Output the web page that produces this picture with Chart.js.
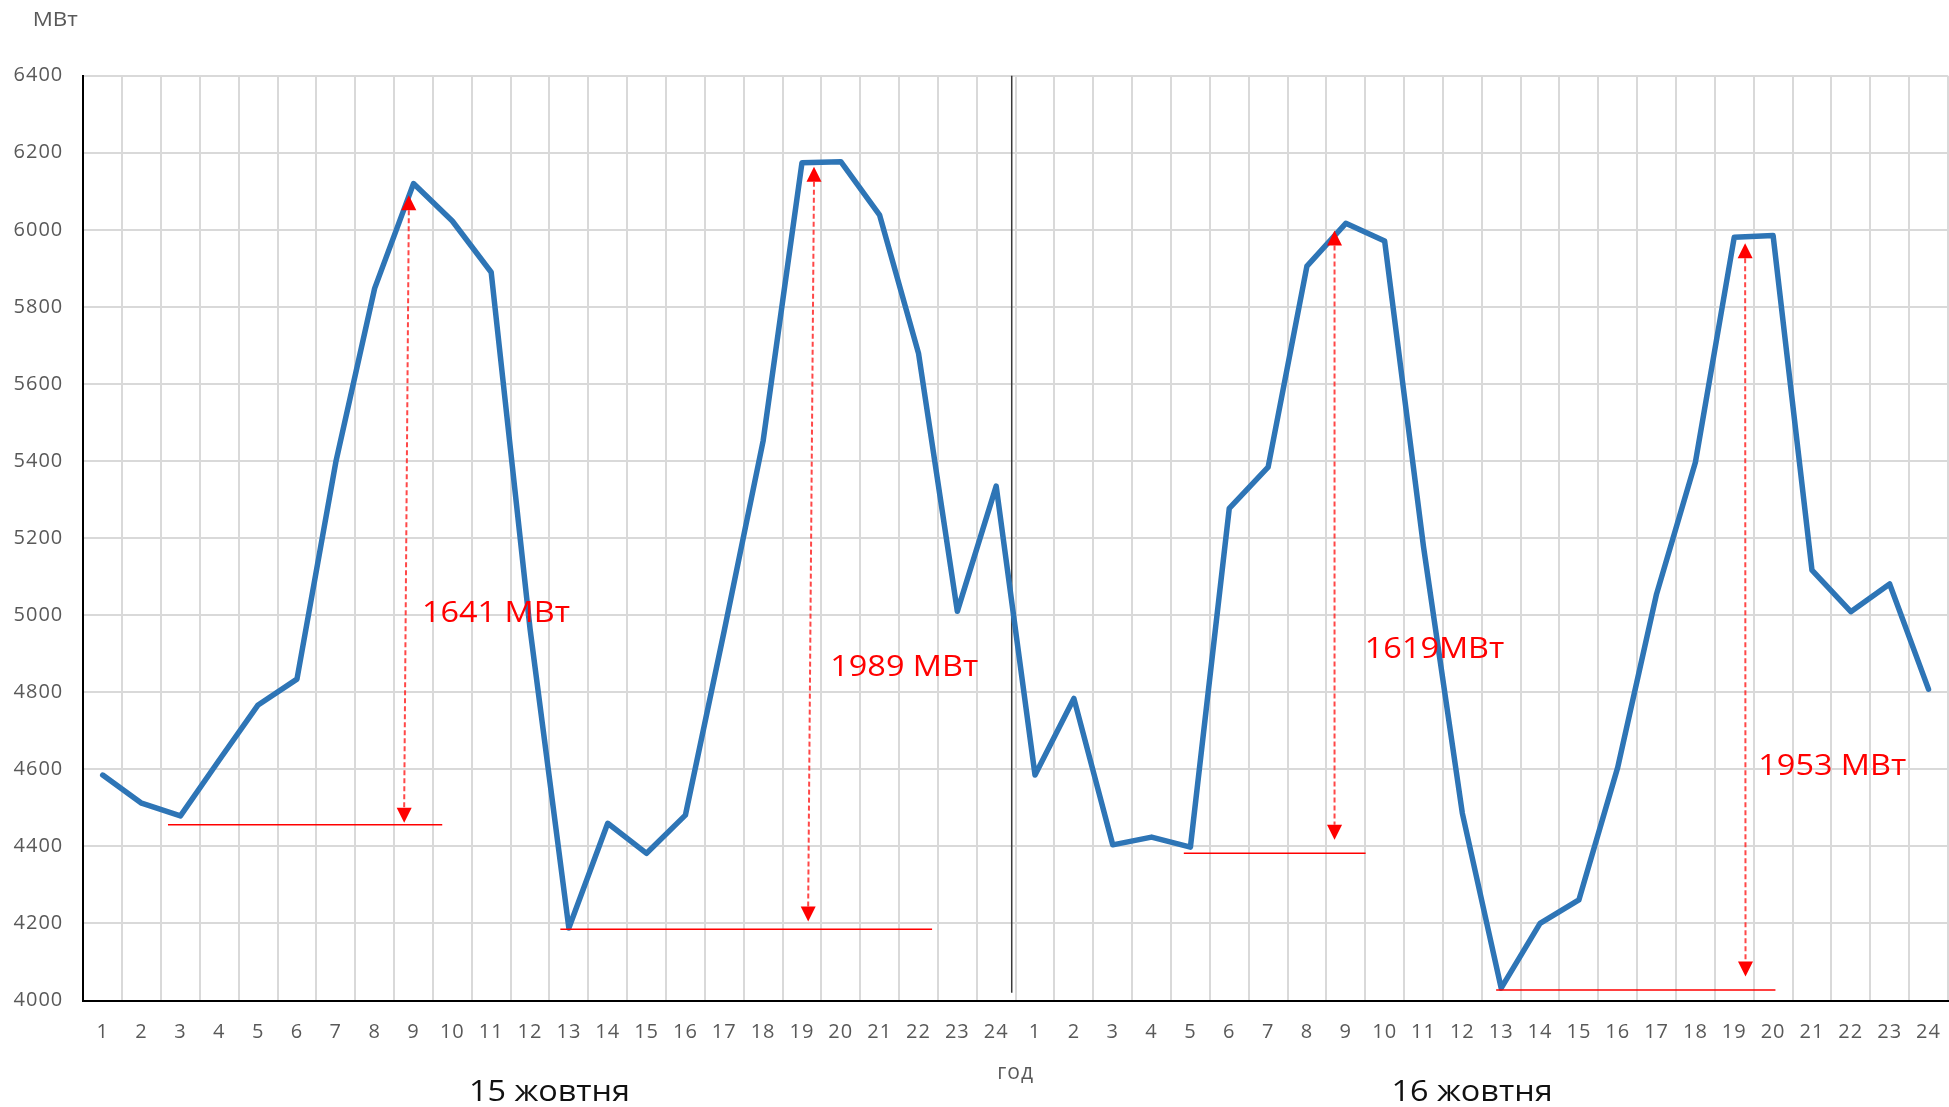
<!DOCTYPE html>
<html><head><meta charset="utf-8">
<script src="https://cdn.jsdelivr.net/npm/chart.js@4.4.1/dist/chart.umd.min.js"></script>
<style>
html,body{margin:0;padding:0;background:#fff;overflow:hidden;width:1949px;height:1107px;}
#wrap{position:absolute;left:0;top:0;width:1960px;height:1107px;}
</style></head><body>
<div id="wrap"><canvas id="c" width="1960" height="1107"></canvas></div>
<script>
// ---- data ----
const hours = [1,2,3,4,5,6,7,8,9,10,11,12,13,14,15,16,17,18,19,20,21,22,23,24];
const categories = hours.concat(hours);
const day1Load = [4585,4512,4479,4624,4767,4834,5397,5848,6120,6023,5890,4965,4188,4460,4382,4481,4960,5452,6174,6177,6038,5680,5010,5335];
const day2Load = [4585,4784,4404,4424,4398,5277,5384,5906,6017,5971,5178,4486,4032,4200,4261,4605,5055,5397,5981,5985,5117,5009,5081,4808];
const loadSeries = day1Load.concat(day2Load);
const yMin = 4000, yMax = 6400, yStep = 200;
const unitLabel = 'МВт';
const axisTitle = 'год';
const dayNames = ['15 жовтня', '16 жовтня'];
const dayNameAt = [11.5, 35.25];
const daySplitAt = 23.4;
const daySplitSpan = [6400, 4020];
// daily swing annotations (category index / MW)
const swingText = ['1641 МВт', '1989 МВт', '1619МВт', '1953 МВт'];
const swingTop = [6090, 6164, 5998, 5965];
const swingBottom = [4461, 4205, 4417, 4062];
const swingXTop = [7.88, 18.31, 31.71, 42.28];
const swingXBottom = [7.76, 18.16, 31.71, 42.29];
const floorLevel = [4456, 4185, 4382, 4027];
const floorFrom = [1.68, 11.78, 27.83, 35.87];
const floorTo = [8.74, 21.35, 32.51, 43.06];
const textAtX = [8.22, 18.73, 32.49, 42.62];
const textAtY = [5005, 4865, 4910, 4607];

const FONT = '"Open Sans", "DejaVu Sans", sans-serif';

function tri(ctx, x, y, dir, w, h){
  ctx.beginPath();
  ctx.moveTo(x, y);
  ctx.lineTo(x - w/2, y - dir*h);
  ctx.lineTo(x + w/2, y - dir*h);
  ctx.closePath();
  ctx.fill();
}
function wideText(ctx, txt, x, y, sx){
  ctx.save();
  ctx.translate(x, y);
  ctx.scale(sx, 1);
  ctx.fillText(txt, 0, 0);
  ctx.restore();
}

const overlay = {
  id: 'overlay',
  beforeDraw(chart){
    chart.ctx.letterSpacing = '1px';
  },
  beforeDatasetsDraw(chart){
    const {ctx, scales:{x, y}} = chart;
    const px = x.getPixelForValue(daySplitAt);
    ctx.save();
    ctx.strokeStyle = '#3a3a3a';
    ctx.lineWidth = 1.5;
    ctx.beginPath();
    ctx.moveTo(px, y.getPixelForValue(daySplitSpan[0]));
    ctx.lineTo(px, y.getPixelForValue(daySplitSpan[1]));
    ctx.stroke();
    ctx.restore();
  },
  afterDatasetsDraw(chart){
    const {ctx, scales:{x, y}} = chart;
    ctx.save();
    ctx.letterSpacing = '0px';
    for (let i = 0; i < swingText.length; i++){
      ctx.strokeStyle = '#ff0000';
      ctx.lineWidth = 1.5;
      ctx.setLineDash([]);
      const by = y.getPixelForValue(floorLevel[i]);
      ctx.beginPath();
      ctx.moveTo(x.getPixelForValue(floorFrom[i]), by);
      ctx.lineTo(x.getPixelForValue(floorTo[i]), by);
      ctx.stroke();
      const x1 = x.getPixelForValue(swingXTop[i]), y1 = y.getPixelForValue(swingTop[i]);
      const x2 = x.getPixelForValue(swingXBottom[i]), y2 = y.getPixelForValue(swingBottom[i]);
      const head = 15;
      ctx.strokeStyle = 'rgba(255,40,40,0.85)';
      ctx.lineWidth = 2;
      ctx.setLineDash([5, 3]);
      ctx.beginPath();
      ctx.moveTo(x1, y1 + head);
      ctx.lineTo(x2, y2 - head);
      ctx.stroke();
      ctx.setLineDash([]);
      ctx.fillStyle = '#ff0000';
      tri(ctx, x1, y1, -1, 15, head);
      tri(ctx, x2, y2, 1, 15, head);
      ctx.font = '30px ' + FONT;
      ctx.fillStyle = '#ff0000';
      ctx.textAlign = 'left';
      ctx.textBaseline = 'middle';
      wideText(ctx, swingText[i], x.getPixelForValue(textAtX[i]), y.getPixelForValue(textAtY[i]), 1.08);
    }
    ctx.restore();
  },
  afterDraw(chart){
    const {ctx, chartArea, scales:{x}} = chart;
    ctx.save();
    ctx.letterSpacing = '0px';
    ctx.font = '20px ' + FONT;
    ctx.fillStyle = '#595959';
    ctx.textAlign = 'center';
    ctx.textBaseline = 'middle';
    wideText(ctx, unitLabel, chartArea.left - 28, chartArea.top - 55, 1.12);
    ctx.font = '30px ' + FONT;
    ctx.fillStyle = '#111111';
    for (let i = 0; i < dayNames.length; i++){
      wideText(ctx, dayNames[i], x.getPixelForValue(dayNameAt[i]), chartArea.bottom + 92, 1.08);
    }
    ctx.restore();
  }
};

new Chart(document.getElementById('c'), {
  type: 'line',
  data: {
    labels: categories,
    datasets: [{
      data: loadSeries,
      borderColor: '#2E75B6',
      borderWidth: 5.5,
      borderJoinStyle: 'round',
      borderCapStyle: 'round',
      pointRadius: 0,
      tension: 0,
      fill: false
    }]
  },
  options: {
    responsive: false,
    animation: false,
    devicePixelRatio: 1,
    layout: { padding: { top: 75.7, right: 7, left: 0, bottom: 0 } },
    plugins: { legend: { display: false }, tooltip: { enabled: false }, title: { display: false } },
    scales: {
      x: {
        type: 'category',
        offset: true,
        grid: { offset: true, color: '#d9d9d9', lineWidth: 2, drawTicks: false },
        border: { display: true, color: '#000000', width: 2 },
        ticks: { color: '#595959', font: { family: FONT, size: 20 }, padding: 20, maxRotation: 0, autoSkip: false },
        title: { display: true, text: axisTitle, color: '#595959', font: { family: FONT, size: 21 }, padding: { top: 0, bottom: 21 } },
        afterFit(s){ s.height = 106.5; }
      },
      y: {
        min: yMin, max: yMax,
        grid: { color: '#d9d9d9', lineWidth: 2, drawTicks: false },
        border: { display: true, color: '#000000', width: 2 },
        ticks: { stepSize: yStep, color: '#595959', font: { family: FONT, size: 20 }, padding: 20, callback: v => String(v) },
        afterFit(s){ s.width = 83.3; }
      }
    }
  },
  plugins: [overlay]
});
</script>
</body></html>
